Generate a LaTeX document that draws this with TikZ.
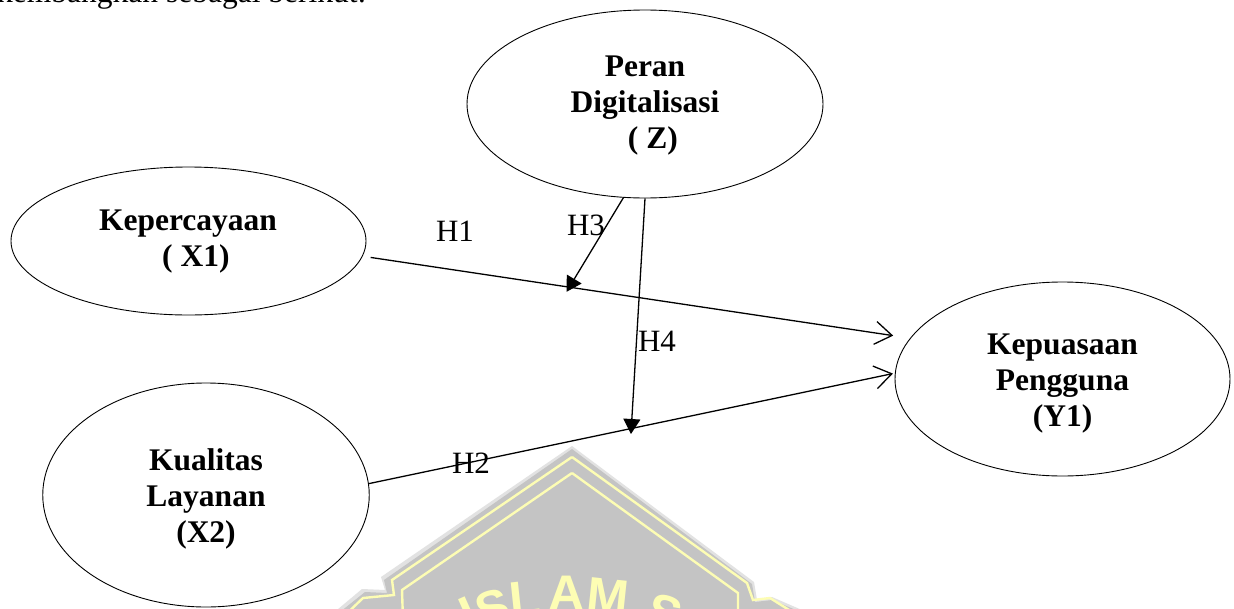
\documentclass[tikz,border=0pt]{standalone}
\usepackage{fontspec}
\setmainfont{Liberation Serif}
\newfontfamily\wmfont{Liberation Sans}
\usetikzlibrary{arrows.meta,shapes.geometric}
\definecolor{wmgray}{HTML}{C4C4C4}
\definecolor{wmshadow}{HTML}{E2E2E2}
\definecolor{wmyellow}{HTML}{FDFDB4}
\tikzset{
  x=1pt,y=-1pt,
  latent/.style={draw=black,line width=0.9pt,ellipse,inner sep=0pt},
  latenttext/.style={font=\fontsize{31.5}{36}\selectfont\bfseries,align=center,inner sep=0pt},
  conn/.style={draw=black,line width=1.3pt},
  openhead/.style={conn,-{Straight Barb[length=17pt,width=23pt,line width=1.3pt]}},
  solidhead/.style={conn,-{Triangle[length=15pt,width=17pt]},shorten >=-1pt},
  hlabel/.style={font=\fontsize{31}{36}\selectfont,inner sep=0pt},
  wmletter/.style={font=\wmfont\fontsize{50}{50}\selectfont\bfseries,text=wmyellow,inner sep=0pt,anchor=north}
}
\begin{document}
\begin{tikzpicture}
\useasboundingbox (0,0) rectangle (1234,608);
\fill[white] (0,0) rectangle (1234,608);
\begin{scope}
\clip (0,0) rectangle (1234,608);
% watermark
\fill[wmshadow] (572,446) -- (381,577) -- (385,590) -- (362,589) -- (325,620) -- (825,620) -- (772,597) -- (757,600) -- (754,582) -- cycle;
\fill[wmgray] (572,449) -- (384,580) -- (387,593) -- (365,592) -- (330,620) -- (820,620) -- (772,600) -- (755,602) -- (752,584) -- cycle;
\draw[wmyellow,line width=2.4pt] (572,457) -- (392,580) -- (394,595) -- (363,598) -- (340,620);
\draw[wmyellow,line width=2.4pt] (572,457) -- (747,583) -- (753,600) -- (770,598) -- (805,620);
\draw[wmyellow,line width=2.4pt] (572,473) -- (402,590) -- (403,620);
\draw[wmyellow,line width=2.4pt] (572,473) -- (738,593) -- (738,620);
\node[wmletter,rotate=24] (wi) at (462,598) {I};
\node[wmletter,rotate=16] (ws) at (488,591) {S};
\node[wmletter,rotate=6] (wl) at (523,581) {L};
\node[wmletter,rotate=0] (wa) at (567,576) {A};
\node[wmletter,rotate=-6] (wm) at (610,579) {M};
\node[wmletter,rotate=-18] (ws2) at (670,596) {S};
% cut-off line of running text
\node[anchor=base west,font=\fontsize{31.5}{36}\selectfont,inner sep=0pt] (top) at (-3,2) {kembangkan sebagai berikut:};
\end{scope}
\node[latent,minimum width=356pt,minimum height=188pt,
  label={[latenttext,name=zt,yshift=-2pt]center:Peran\\Digitalisasi\\\ \ ( Z)}] (z) at (645,104) {};
\node[latent,minimum width=355pt,minimum height=148pt,
  label={[latenttext,name=xat,yshift=-0.5pt,xshift=-0.5pt]center:Kepercayaan\\\ \ ( X1)}] (xa) at (188.5,241) {};
\node[latent,minimum width=326.5pt,minimum height=224pt,
  label={[latenttext,name=xbt,yshift=-4pt]center:Kualitas\\Layanan\\(X2)}] (xb) at (206,495) {};
\node[latent,minimum width=335pt,minimum height=194pt,
  label={[latenttext,name=yat,yshift=-5pt]center:Kepuasaan\\Pengguna\\(Y1)}] (ya) at (1062.5,379) {};
% junctions on the two main paths
\coordinate (ja) at (567,291);
\coordinate (jb) at (631,433);
\draw[openhead,shorten <=8pt,shorten >=17pt] (xa.-5.5) -- (ya.165.2);
\draw[openhead,shorten >=2pt] (xb.4.8) -- (ya.178.6);
\draw[solidhead] (z.-103.3) -- (ja);
\draw[solidhead] (z.-90) -- (jb);
\node[hlabel] (ha) at (455,231) {H1};
\node[hlabel] (hb) at (471,463) {H2};
\node[hlabel] (hc) at (586,225) {H3};
\node[hlabel] (hd) at (657,341) {H4};
\end{tikzpicture}
\end{document}
